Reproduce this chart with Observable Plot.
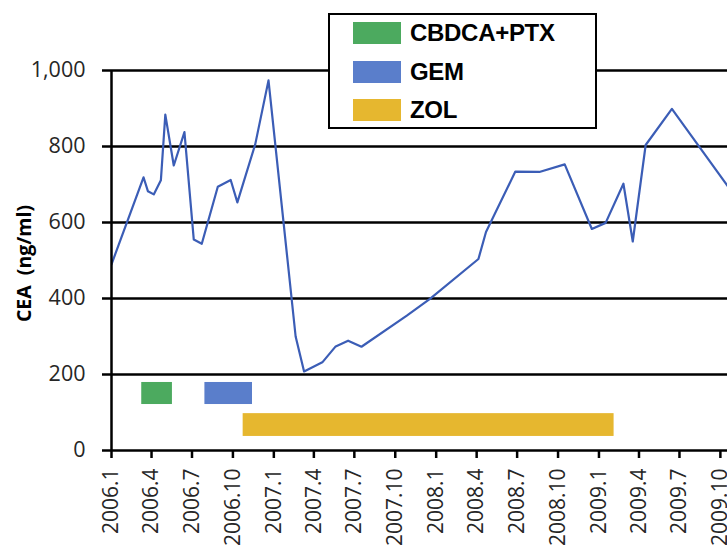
<!DOCTYPE html>
<html><head><meta charset="utf-8">
<script src="https://cdn.jsdelivr.net/npm/d3@7"></script>
<script src="https://cdn.jsdelivr.net/npm/@observablehq/plot@0.6"></script>
<style>
body{margin:0;background:#fff;}
#wrap{position:relative;width:727px;height:552px;overflow:hidden;}
#legend{position:absolute;left:328px;top:13px;width:265px;height:112px;border:2px solid #000;background:#fff;font-family:"Liberation Sans",Arial,sans-serif;font-weight:bold;font-size:24px;color:#000;letter-spacing:-0.3px;}
.item{position:absolute;left:23px;height:22px;display:flex;align-items:center;line-height:22px;white-space:nowrap;}
.sw{width:48px;height:22px;margin-right:9px;flex:none;}
</style></head>
<body><div id="wrap"><div id="chart"></div><div id="legend"></div></div>
<script>
// CEA measurements
const dates = ["2006-01-01","2006-03-14","2006-03-24","2006-04-06","2006-04-22","2006-05-02","2006-05-21","2006-06-14","2006-07-05","2006-07-23","2006-08-28","2006-09-26","2006-10-11","2006-11-20","2006-12-20","2007-02-19","2007-03-10","2007-04-20","2007-05-20","2007-06-17","2007-07-17","2007-10-27","2007-12-18","2008-04-05","2008-04-22","2008-06-27","2008-08-20","2008-10-16","2008-12-16","2009-01-16","2009-02-25","2009-03-18","2009-04-16","2009-06-14","2009-11-01"];
const cea = [490,719,682,674,711,884,750,838,555,544,694,712,653,805,974,300,208,232,274,289,273,355,399,504,575,734,733,753,583,599,702,550,804,899,672];

// treatments
const treatments = ["CBDCA+PTX","GEM","ZOL"];
const treatStart = ["2006-03-10","2006-07-30","2006-10-24"];
const treatEnd = ["2006-05-18","2006-11-14","2009-02-04"];
const treatColors = ["#4caa5f","#5a7ecb","#e6b72f"];

// axes
const yTicks = [0,200,400,600,800,1000];
const xTicks = ["2006-01-01","2006-04-01","2006-07-01","2006-10-01","2007-01-01","2007-04-01","2007-07-01","2007-10-01","2008-01-01","2008-04-01","2008-07-01","2008-10-01","2009-01-01","2009-04-01","2009-07-01","2009-10-01"];
const xDomain = ["2006-01-01","2009-10-17"];
const yLabel = "CEA  (ng/ml)";

const parse = d3.utcParse("%Y-%m-%d");
const series = dates.map((d,i)=>({date:parse(d), cea:cea[i]}));
const bars = treatments.map((t,i)=>({name:t, start:parse(treatStart[i]), end:parse(treatEnd[i]), lane: t==="ZOL"?1:0}));
const laneLo = [121,37], laneHi = [179,97];

const chart = Plot.plot({
  width:727, height:552,
  marginLeft:111, marginRight:0, marginTop:70, marginBottom:102,
  x:{type:"utc", domain:xDomain.map(parse)},
  y:{domain:[0,1000]},
  color:{domain:treatments, range:treatColors},
  style:{fontFamily:"'Open Sans', sans-serif", fontSize:"21.5px", color:"#262626", background:"#fff"},
  marks:[
    Plot.ruleY(yTicks.filter(d=>d>0), {stroke:"#000", strokeWidth:2.5}),
    Plot.rect(bars, {x1:"start", x2:"end", y1:d=>laneLo[d.lane], y2:d=>laneHi[d.lane], fill:"name"}),
    Plot.line(series, {x:"date", y:"cea", stroke:"#3b5db6", strokeWidth:2.2, clip:true}),
    Plot.ruleY([0], {stroke:"#000", strokeWidth:2.5}),
    Plot.ruleX([parse(xDomain[0])], {y1:0, y2:1000, stroke:"#000", strokeWidth:2.5}),
    Plot.axisY({ticks:yTicks, tickSize:9, tickPadding:17, tickFormat:d3.format(","), label:null, stroke:"#000", strokeWidth:2.5}),
    Plot.axisX({ticks:xTicks.map(parse), tickFormat:d3.utcFormat("%Y.%-m"), tickRotate:-90, tickSize:8, tickPadding:10, label:null, stroke:"#000", strokeWidth:2.5, fontSize:21}),
    Plot.text([yLabel], {frameAnchor:"left", textAnchor:"middle", rotate:-90, dx:-87, dy:3, fontWeight:"bold", fontSize:19.5, fill:"#000"})
  ]
});
document.getElementById("chart").appendChild(chart);

const legend = document.getElementById("legend");
treatments.forEach((t,i)=>{
  const item = document.createElement("div");
  item.className = "item";
  item.style.top = (7 + i*38.5) + "px";
  const sw = document.createElement("div");
  sw.className = "sw";
  sw.style.background = treatColors[i];
  const label = document.createElement("span");
  label.textContent = t;
  item.appendChild(sw); item.appendChild(label);
  legend.appendChild(item);
});
</script>
</body></html>
